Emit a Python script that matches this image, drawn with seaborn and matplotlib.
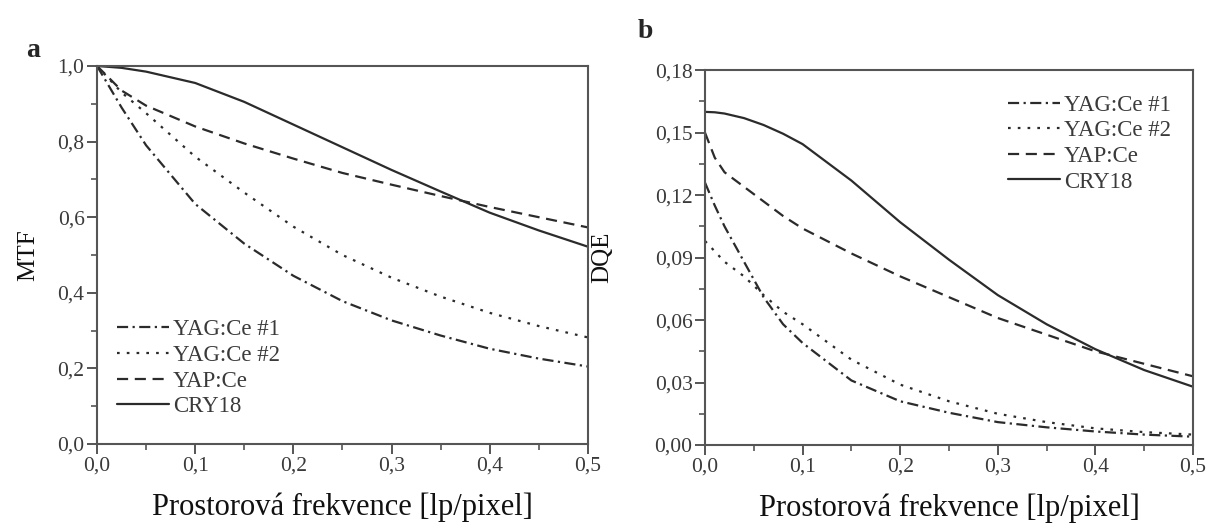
import numpy as np
import pandas as pd
import matplotlib
matplotlib.use('Agg')
import matplotlib.pyplot as plt
import seaborn as sns
from matplotlib.ticker import MultipleLocator

# series names (legend order)
series = ['YAG:Ce #1', 'YAG:Ce #2', 'YAP:Ce', 'CRY18']

# ---- panel a: MTF values
mtf_f = [0.0, 0.025, 0.05, 0.1, 0.15, 0.2, 0.25, 0.3, 0.35, 0.4, 0.45, 0.5]
mtf_yag1 = [1.0, 0.89, 0.79, 0.635, 0.53, 0.445, 0.378, 0.327, 0.287, 0.252, 0.226, 0.205]
mtf_yag2 = [1.0, 0.93, 0.875, 0.76, 0.665, 0.575, 0.5, 0.44, 0.39, 0.347, 0.312, 0.282]
mtf_yap = [1.0, 0.935, 0.895, 0.84, 0.795, 0.755, 0.717, 0.686, 0.656, 0.627, 0.6, 0.573]
mtf_cry = [1.0, 0.995, 0.985, 0.955, 0.905, 0.845, 0.785, 0.725, 0.668, 0.612, 0.565, 0.522]

# ---- panel b: DQE values
dqe_f = [0.0, 0.01, 0.02, 0.04, 0.06, 0.08, 0.1, 0.15, 0.2, 0.25, 0.3, 0.35, 0.4, 0.45, 0.5]
dqe_yag1 = [0.126, 0.115, 0.105, 0.088, 0.071, 0.058, 0.049, 0.031, 0.021, 0.0155, 0.011, 0.0085, 0.0065, 0.005, 0.004]
dqe_yag2 = [0.098, 0.093, 0.088, 0.081, 0.072, 0.064, 0.058, 0.041, 0.029, 0.021, 0.015, 0.011, 0.008, 0.0062, 0.005]
dqe_yap = [0.150, 0.138, 0.131, 0.124, 0.117, 0.110, 0.104, 0.092, 0.081, 0.071, 0.061, 0.053, 0.045, 0.039, 0.033]
dqe_cry = [0.160, 0.1598, 0.1592, 0.157, 0.1537, 0.1495, 0.1445, 0.127, 0.107, 0.089, 0.072, 0.058, 0.046, 0.036, 0.028]

# tick labels (Czech decimal comma)
x_ticks = [0.0, 0.1, 0.2, 0.3, 0.4, 0.5]
x_labels = ['0,0', '0,1', '0,2', '0,3', '0,4', '0,5']
mtf_ticks = [0.0, 0.2, 0.4, 0.6, 0.8, 1.0]
mtf_labels = ['0,0', '0,2', '0,4', '0,6', '0,8', '1,0']
dqe_ticks = [0.0, 0.03, 0.06, 0.09, 0.12, 0.15, 0.18]
dqe_labels = ['0,00', '0,03', '0,06', '0,09', '0,12', '0,15', '0,18']

xlabel = 'Prostorová frekvence [lp/pixel]'


def long_df(f, cols):
    frames = [pd.DataFrame({'f': f, 'v': v, 'name': n}) for n, v in zip(series, cols)]
    return pd.concat(frames, ignore_index=True)


df_mtf = long_df(mtf_f, [mtf_yag1, mtf_yag2, mtf_yap, mtf_cry])
df_dqe = long_df(dqe_f, [dqe_yag1, dqe_yag2, dqe_yap, dqe_cry])

sns.set_theme(style='ticks')
plt.rcParams['font.family'] = ['Liberation Serif', 'DejaVu Serif']

line_col = '#2b2b2b'
axis_col = '#555555'
dash_map = {
    'YAG:Ce #1': (5, 2, 1, 2),
    'YAG:Ce #2': (1.2, 3.2),
    'YAP:Ce': (5, 3),
    'CRY18': '',
}

fig = plt.figure(figsize=(12.07, 5.32), dpi=100)
ax1 = fig.add_axes([0.0804, 0.1654, 0.4066, 0.7106])
ax2 = fig.add_axes([0.5841, 0.1635, 0.4043, 0.7045])


def draw(ax, df, yticks, ylabels, ylim, ylabel, minor, leg_anchor, ypad):
    sns.lineplot(data=df, x='f', y='v', style='name', style_order=series,
                 dashes=dash_map, color=line_col, linewidth=1.6,
                 estimator=None, sort=False, ax=ax)
    ax.set_xlim(0, 0.5)
    ax.set_ylim(*ylim)
    ax.set_xticks(x_ticks, x_labels)
    ax.set_yticks(yticks, ylabels)
    ax.xaxis.set_minor_locator(MultipleLocator(0.05))
    ax.yaxis.set_minor_locator(MultipleLocator(minor))
    ax.tick_params(which='major', direction='out', length=7, width=1.4,
                   color=axis_col, labelsize=15.5, labelcolor='#3a3a3a', pad=2)
    ax.tick_params(which='minor', direction='out', length=4, width=1.2, color=axis_col)
    for s in ax.spines.values():
        s.set_visible(True)
        s.set_color(axis_col)
        s.set_linewidth(1.5)
    ax.set_xlabel(xlabel, fontsize=22, color='#111111', labelpad=12)
    ax.set_ylabel(ylabel, fontsize=18, color='#111111', labelpad=ypad)
    h, l = ax.get_legend_handles_labels()
    ax.legend(h, l, loc='upper left', bbox_to_anchor=leg_anchor, frameon=False,
              fontsize=16.5, handlelength=2.3, handletextpad=0.15,
              labelspacing=0.2, borderpad=0, borderaxespad=0,
              labelcolor='#3a3a3a')


draw(ax1, df_mtf, mtf_ticks, mtf_labels, (0, 1.0), 'MTF', 0.1, (0.04, 0.33), 13)
draw(ax2, df_dqe, dqe_ticks, dqe_labels, (0, 0.18), 'DQE', 0.015, (0.62, 0.935), 30)

fig.text(0.022, 0.893, 'a', fontsize=20, fontweight='bold')
fig.text(0.528, 0.929, 'b', fontsize=20, fontweight='bold')

fig.savefig('out.png', dpi=100)
